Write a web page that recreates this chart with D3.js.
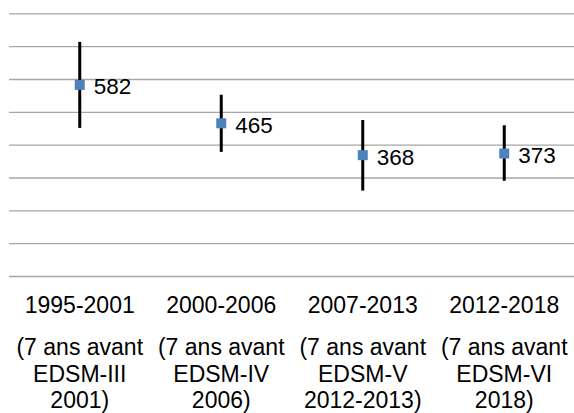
<!DOCTYPE html>
<html>
<head>
<meta charset="utf-8">
<script src="https://cdn.jsdelivr.net/npm/d3@7"></script>
<style>
  html, body { margin: 0; padding: 0; background: #ffffff; }
  svg { display: block; font-family: "Liberation Sans", Arial, sans-serif; }
</style>
</head>
<body>
<svg id="chart" width="574" height="413"></svg>
<script>
const categories = ["1995-2001", "2000-2006", "2007-2013", "2012-2018"];
const subLabels = [
  ["(7 ans avant", "EDSM-III", "2001)"],
  ["(7 ans avant", "EDSM-IV", "2006)"],
  ["(7 ans avant", "EDSM-V", "2012-2013)"],
  ["(7 ans avant", "EDSM-VI", "2018)"]
];
const values = [582, 465, 368, 373];
const lowerBounds = [451, 378, 260, 290];
const upperBounds = [713, 552, 475, 459];
const gridTicks = [0, 100, 200, 300, 400, 500, 600, 700, 800];

(function () {
const svg = d3.select("#chart");
const mLeft = 9, mRight = 575, mTop = 13.3, mBottom = 276;

const x = d3.scaleBand().domain(categories).range([mLeft, mRight]).padding(0);
const y = d3.scaleLinear().domain([0, 800]).range([mBottom, mTop]);

// gridlines
const grid = svg.append("g")
  .attr("transform", `translate(${mLeft},0)`)
  .call(d3.axisLeft(y).tickValues(gridTicks).tickSize(-(mRight - mLeft)).tickFormat(""));
grid.select(".domain").remove();
grid.selectAll(".tick line").attr("stroke", "#a6a6a6").attr("stroke-width", 1.3);

const cx = d => x(d) + x.bandwidth() / 2;

// error bars
svg.append("g").selectAll("line")
  .data(categories)
  .join("line")
  .attr("x1", d => cx(d)).attr("x2", d => cx(d))
  .attr("y1", (d, i) => y(upperBounds[i]))
  .attr("y2", (d, i) => y(lowerBounds[i]))
  .attr("stroke", "#000")
  .attr("stroke-width", 3);

// markers
const ms = 10;
svg.append("g").selectAll("rect")
  .data(categories)
  .join("rect")
  .attr("x", d => cx(d) - ms / 2)
  .attr("y", (d, i) => y(values[i]) - ms / 2)
  .attr("width", ms).attr("height", ms)
  .attr("fill", "#4f81bd");

// data labels
svg.append("g").selectAll("text")
  .data(categories)
  .join("text")
  .attr("x", d => cx(d) + 14)
  .attr("y", (d, i) => y(values[i]) + 9.5)
  .attr("font-size", "22.5px")
  .attr("fill", "#000")
  .text((d, i) => values[i]);

// category labels
const lab = svg.append("g").selectAll("g")
  .data(categories)
  .join("g")
  .attr("transform", d => `translate(${cx(d)},0)`);

lab.append("text")
  .attr("y", 313)
  .attr("text-anchor", "middle")
  .attr("font-size", "23px")
  .attr("fill", "#000")
  .text(d => d);

lab.each(function (d, i) {
  const g = d3.select(this);
  subLabels[i].forEach((line, j) => {
    g.append("text")
      .attr("y", 355 + j * 26.5)
      .attr("text-anchor", "middle")
      .attr("font-size", "23px")
      .attr("fill", "#000")
      .text(line);
  });
});
})();
</script>
</body>
</html>
